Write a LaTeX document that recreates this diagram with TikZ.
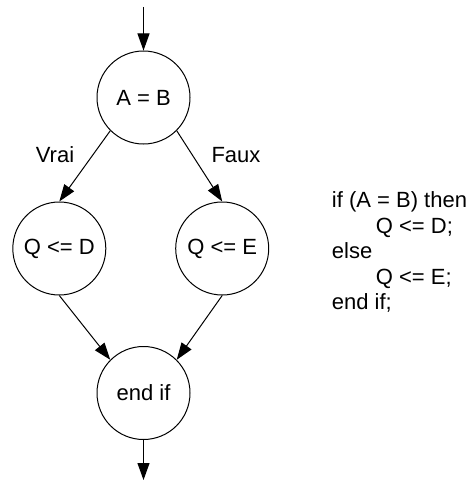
\documentclass[tikz,border=0pt]{standalone}
\usepackage{fontspec}
\setmainfont{Liberation Sans}
\usetikzlibrary{arrows.meta}
\begin{document}
\begin{tikzpicture}[x=1pt,y=-1pt,
  state/.style={draw, circle, line width=1pt, minimum size=93pt, inner sep=0pt},
  flow/.style={line width=1pt, -{Triangle[length=17pt,width=12pt]}},
  txt/.style={font=\fontsize{22}{25}\selectfont, inner sep=0pt},
  every node/.style={font=\fontsize{22}{25}\selectfont}]
\useasboundingbox[fill=white] (0,0) rectangle (469,481);
\node[state] (ab) at (143.5,97.5) {A = B};
\node[state] (qd) at (59.3,248.5) {Q <= D};
\node[state] (qe) at (222.2,248.5) {Q <= E};
\node[state] (ei) at (143.5,393) {end if};
\coordinate (in) at (143.5,7);
\coordinate (out) at (143.5,480);
\draw[flow] (in) -- (ab.north);
\draw[flow] (ab.225) -- (qd.north);
\draw[flow] (ab.315) -- (qe.north);
\draw[flow] (qd.south) -- (ei.135);
\draw[flow] (qe.south) -- (ei.45);
\draw[flow] (ei.south) -- (out);
\node[txt, anchor=base] (vrai) at (55,162) {Vrai};
\node[txt, anchor=base] (faux) at (236,162) {Faux};
\node[txt, anchor=base west] (c1) at (331.7,207.5) {if (A = B) then};
\node[txt, anchor=base west] (c2) at (375.7,233) {Q <= D;};
\node[txt, anchor=base west] (c3) at (331.7,258.5) {else};
\node[txt, anchor=base west] (c4) at (375.7,284) {Q <= E;};
\node[txt, anchor=base west] (c5) at (331.7,309.5) {end if;};
\end{tikzpicture}
\end{document}
